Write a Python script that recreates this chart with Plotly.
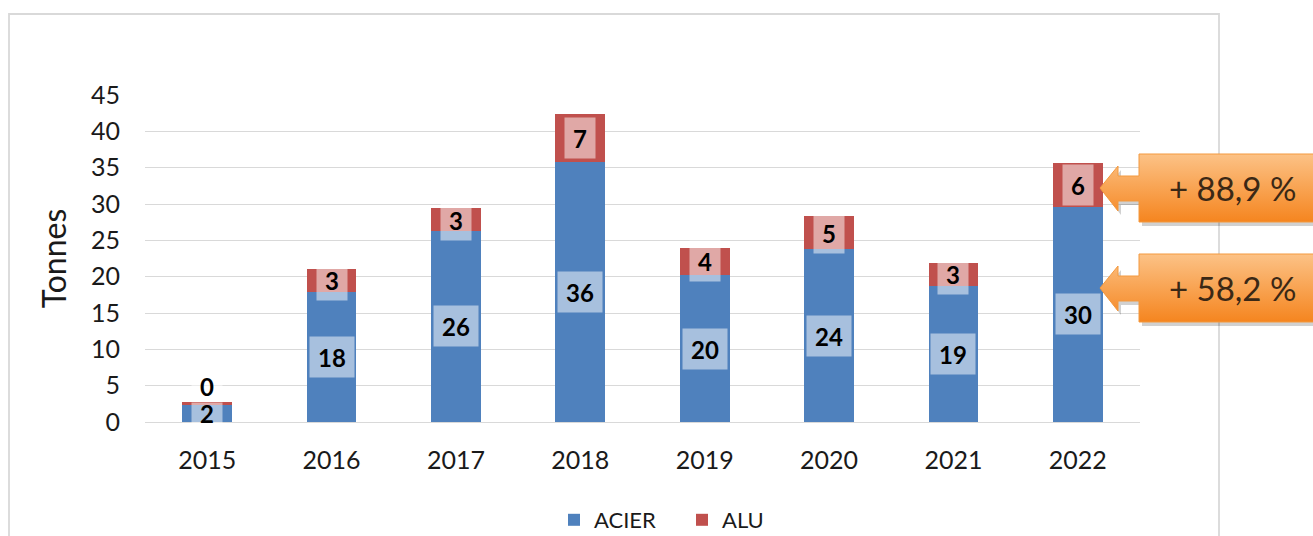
import plotly.graph_objects as go

# ---------------- data ----------------
years = ["2015", "2016", "2017", "2018", "2019", "2020", "2021", "2022"]
acier = [2.3, 17.9, 26.3, 35.8, 20.2, 23.75, 18.7, 29.6]
alu = [0.4, 3.15, 3.1, 6.6, 3.8, 4.6, 3.2, 6.05]
y_ticks = [0, 5, 10, 15, 20, 25, 30, 35, 40, 45]
callout_texts = ["+ 88,9 %", "+ 58,2 %"]

# ---------------- layout geometry (pixels) ----------------
W, H = 1313, 536
PL, PR, PT, PB = 145, 1140, 95, 422
FONT = "Lato, 'Open Sans', sans-serif"

BLUE = "#4f81bd"
RED = "#c0504d"
GRID = "#d9d9d9"

fig = go.Figure()
fig.add_bar(x=years, y=acier, name="ACIER", marker=dict(color=BLUE, line=dict(width=0)),
            width=0.4, xaxis="x", yaxis="y")
fig.add_bar(x=years, y=alu, name="ALU", marker=dict(color=RED, line=dict(width=0)),
            width=0.4, xaxis="x", yaxis="y")

annotations = []


def label(x, y, txt, h=40, bg="rgba(255,255,255,0.5)"):
    w = 16 + 14 * len(txt)
    annotations.append(dict(
        x=x, y=y, xref="x", yref="y", text="<b>%s</b>" % txt, showarrow=False,
        font=dict(family=FONT, size=24, color="#000000"),
        bgcolor=bg, width=w, height=h, borderpad=0,
        xanchor="center", yanchor="middle"))


for yr, a, b in zip(years, acier, alu):
    small = b < 1
    h = 21 if small else 40
    label(yr, a / 2.0, "%.0f" % a, h=h)
    if small:
        label(yr, a + b + 2.2, "%.0f" % b, h=h)
    else:
        label(yr, a + b / 2.0, "%.0f" % b, h=h)

# ---------------- callouts (overlay pixel axes) ----------------
callout_cy = [188, 288]
for cy, txt in zip(callout_cy, callout_texts):
    box_l, box_r = 1139, 1330
    top, bot = cy - 34, cy + 34
    sh_t, sh_b = cy - 12, cy + 13
    head_x, hd_t, hd_b = 1118, cy - 22, cy + 23
    tip_x = 1100
    px = [box_l, box_r, box_r, box_l, box_l, head_x, head_x, tip_x, head_x, head_x, box_l, box_l]
    py = [top, top, bot, bot, sh_b, sh_b, hd_b, cy, hd_t, sh_t, sh_t, top]
    # shadow
    fig.add_trace(go.Scatter(
        x=[v + 3 for v in px], y=[H - (v + 4) for v in py], mode="lines",
        fill="toself", fillcolor="rgba(0,0,0,0.18)", line=dict(width=0),
        xaxis="x2", yaxis="y2", showlegend=False, hoverinfo="skip"))
    fig.add_trace(go.Scatter(
        x=px, y=[H - v for v in py], mode="lines", fill="toself",
        fillgradient=dict(type="vertical", colorscale=[[0, "#f5851f"], [1, "#fcc286"]]),
        line=dict(width=1, color="#f3993f"),
        xaxis="x2", yaxis="y2", showlegend=False, hoverinfo="skip"))
    annotations.append(dict(
        x=1232, y=H - cy, xref="x2", yref="y2", text=txt, showarrow=False,
        font=dict(family=FONT, size=33, color="#3b2815"),
        xanchor="center", yanchor="middle"))

fig.update_layout(
    width=W, height=H, template="none",
    margin=dict(l=0, r=0, t=0, b=0, pad=0, autoexpand=False),
    paper_bgcolor="white", plot_bgcolor="rgba(0,0,0,0)",
    barmode="stack", bargap=0.6,
    font=dict(family=FONT, color="#1a1a1a"),
    xaxis=dict(domain=[PL / W, PR / W], anchor="y", showgrid=False, showline=False,
               zeroline=False, ticks="", tickfont=dict(size=25, color="#1a1a1a"),
               ticklabelstandoff=21, fixedrange=True),
    yaxis=dict(domain=[(H - PB) / H, (H - PT) / H], anchor="x", range=[0, 45],
               tickvals=y_ticks, showgrid=True, gridcolor=GRID, gridwidth=1.3,
               zeroline=True, zerolinecolor=GRID, zerolinewidth=1.3, showline=False,
               ticks="", tickfont=dict(size=25, color="#1a1a1a"), ticklabelstandoff=24,
               title=dict(text="Tonnes", font=dict(size=32, color="#1a1a1a"), standoff=14),
               fixedrange=True),
    xaxis2=dict(domain=[0, 1], anchor="y2", range=[0, W], visible=False, fixedrange=True),
    yaxis2=dict(domain=[0, 1], anchor="x2", range=[0, H], visible=False, fixedrange=True),
    legend=dict(orientation="h", x=554 / W, y=(H - 520) / H, xanchor="left", yanchor="middle",
                font=dict(size=22, color="#1a1a1a"), bgcolor="rgba(0,0,0,0)",
                entrywidth=83, traceorder="normal"),
    annotations=annotations,
    shapes=[dict(type="rect", xref="paper", yref="paper",
                 x0=9 / W, x1=1219 / W, y0=-0.2, y1=(H - 14) / H,
                 line=dict(color=GRID, width=1.8), fillcolor="rgba(0,0,0,0)", layer="below")],
)

fig.write_html("out.html", config={"displayModeBar": False},
               post_script="document.body.style.margin='0';")
